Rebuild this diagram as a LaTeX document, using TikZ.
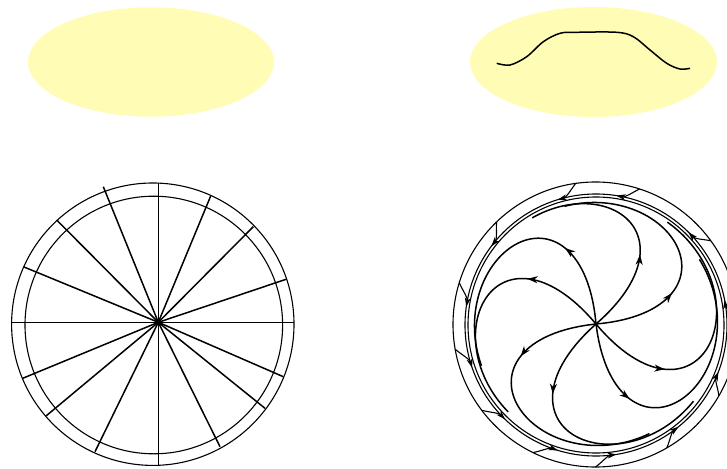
\documentclass[tikz,border=0pt]{standalone}
\usetikzlibrary{arrows.meta,decorations.markings}
\definecolor{pale}{RGB}{255,253,181}
\begin{document}
\begin{tikzpicture}[x=1pt,y=-1pt,
  ring/.style={line width=1.1pt},
  spoke/.style={line width=1.5pt},
  spiral/.style={line width=1.5pt},
  barrow/.style={line width=1.1pt,-{Stealth[length=9pt,width=6pt,inset=2.5pt]}},
  mid/.style={postaction={decorate},decoration={markings,mark=at position 84pt with {\arrow{Stealth[length=10pt,width=7pt,inset=3pt]}}}}]
\useasboundingbox (0,0) rectangle (727,468);
\clip (0,0) rectangle (727,468);
% yellow ellipses
\fill[pale] (151,62) ellipse [x radius=123, y radius=54.7];
\fill[pale] (593.5,62) ellipse [x radius=123.5, y radius=55];
\draw[line width=1.5pt] plot[smooth,tension=0.55] coordinates {(496.7,63.3) (510,65) (526.7,56.7) (543.3,41.7) (560,33.3) (576.7,32.3) (616.7,32.3) (633.3,36.7) (650,50) (666.7,63.3) (680,69) (690,68.3)};
% left disc
\coordinate (L) at (158.3,322.3);
\draw[ring] (152.8,324.2) circle [radius=141.2];
\draw[ring] (153.8,325) circle [radius=128.8];
\foreach \p in {(103.3,186.7),(158.3,183.3),(210.7,196),(253.3,226.7),(286,279.3),(294,322.3),(283.3,376.7),(265,408.3),(220,446.7),(158.3,465),(95,451.7),(46,416),(22.7,378.3),(11.7,322.3),(23.3,266.7),(56.7,220)}
  \draw[spoke] (L) -- \p;
% right disc
\coordinate (R) at (596,324);
\draw[ring] (595.5,324.5) circle [radius=142.5];
\draw[ring] (596,325) circle [radius=131];
\draw[ring] (596,325) circle [radius=128];
% spirals
\foreach \a/\RR/\D in {-83/122/115, -50/124.5/105, 5/122/100, 41/124.5/80, 95/122/105, 130/124.5/95, 186/122/110, 221.6/124.5/100}{
  \pgfmathsetmacro\e{\a+\D}
  \draw[spiral,mid] plot[domain=\a:\e,samples=100,variable=\t]
    ({596+\RR*(1-exp(-0.065*(\t-\a)))*cos(\t)},{324-\RR*(1-exp(-0.065*(\t-\a)))*sin(\t)});
}
% small boundary arrows
\foreach \f in {2,36,72,98,134,163,190,217,244,270,300,330}{
  \draw[barrow] ({595.5+142.5*cos(\f)},{324.5-142.5*sin(\f)}) .. controls ({596+136.5*cos(\f+3)},{325-136.5*sin(\f+3)}) and ({596+131*cos(\f+5)},{325-131*sin(\f+5)}) .. ({596+131*cos(\f+9)},{325-131*sin(\f+9)});
}
\end{tikzpicture}
\end{document}
